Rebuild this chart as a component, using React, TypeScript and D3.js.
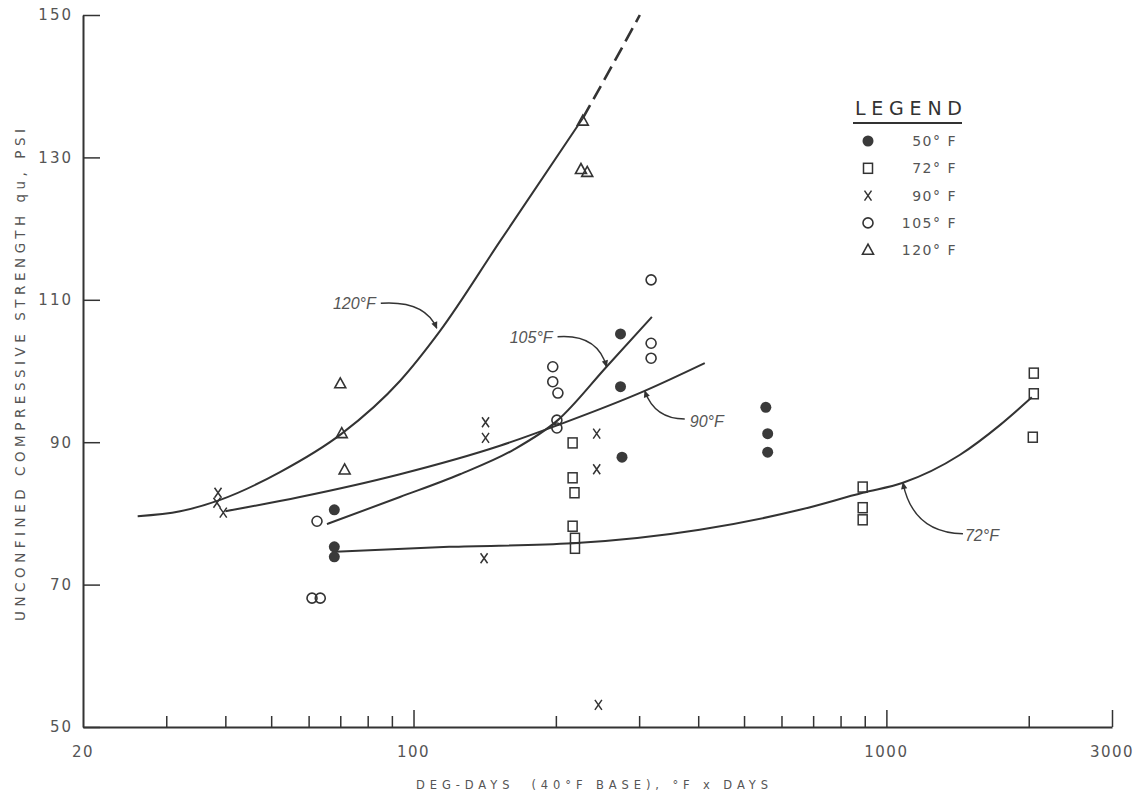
import React, { useEffect, useRef } from 'react';
import * as d3 from 'd3';

const W = 1141;
const H = 797;
const margin = { left: 83, right: 29, top: 15, bottom: 70 };

const xTicks = [30, 40, 50, 60, 70, 80, 90, 100, 200, 300, 400, 500, 600, 700, 800, 900, 1000, 2000, 3000];
const xMajor = [100, 1000];
const xLabels = [20, 100, 1000, 3000];
const yTicks = [50, 70, 90, 110, 130, 150];

// measured points [deg-days, psi]
const pts50 = [[68, 80.5], [68, 75.3], [68, 73.9], [274, 105.2], [274, 97.8], [276, 87.9], [556, 94.9], [561, 91.2], [561, 88.6]];
const pts72 = [[217, 89.9], [217, 85], [219, 82.9], [217, 78.2], [219.5, 76.5], [219.5, 75.1], [891, 83.7], [891, 80.8], [891, 79.1], [2050, 99.7], [2050, 96.8], [2040, 90.7]];
const pts90 = [[38.6, 82.9], [38.4, 81.5], [39.6, 80.1], [142, 92.8], [142, 90.6], [141, 73.7], [244, 91.2], [244, 86.2], [246, 53.1]];
const pts105 = [[62.5, 78.9], [61, 68.1], [63.5, 68.1], [197, 100.6], [197, 98.5], [202, 96.9], [201, 93.1], [201, 92.0], [318, 112.8], [318, 103.9], [318, 101.8]];
const pts120 = [[228, 135.1], [226, 128.3], [233, 127.9], [70, 98.2], [70.5, 91.2], [71.5, 86.1]];

// fitted curves
const curve120 = [[26.1, 79.6], [32.1, 80.3], [39, 81.9], [52.2, 85.8], [70.5, 91.2], [93.6, 98.6], [113.7, 105.6], [152.3, 118.2], [228, 135.5]];
const curve120Ext = [[228, 135.5], [262.6, 142.8], [301, 150]];
const curve105 = [[65.6, 78.5], [93.6, 82.3], [125.4, 85.5], [162.3, 88.9], [201.9, 93.1], [256, 100.6], [319.2, 107.6]];
const curve90 = [[40, 80.3], [57.5, 82.3], [93.6, 85.5], [152.3, 89.5], [201.9, 92.4], [308.3, 97.2], [413, 101.1]];
const curve72 = [[68.2, 74.6], [119, 75.3], [217, 75.8], [402.9, 77.7], [656, 80.5], [891.5, 82.9], [1084, 84.3], [1429, 88.2], [1738, 92.4], [2030, 96.3]];

const legendItems = [
  { key: 'dot', label: '50° F' },
  { key: 'square', label: '72° F' },
  { key: 'cross', label: '90° F' },
  { key: 'circle', label: '105° F' },
  { key: 'triangle', label: '120° F' },
];

// curve call-outs: anchor on curve (data), text and leader offsets (px)
const callouts = [
  { label: '120°F', at: [112, 106.0], tx: -61, ty: -19, anchor: 'end', path: 'M-56,-25 Q-12,-28 0,0' },
  { label: '105°F', at: [256, 100.6], tx: -54, ty: -24, anchor: 'end', path: 'M-49,-30 Q-9,-33 0,0' },
  { label: '90°F', at: [308.3, 97.2], tx: 45, ty: 36, anchor: 'start', path: 'M40,28 Q10,28 0,0' },
  { label: '72°F', at: [1084, 84.3], tx: 62, ty: 58, anchor: 'start', path: 'M60,51 Q10,50 0,0' },
];

const INK = '#333';
const TXT = '#555';
const FONT = '"DejaVu Sans", sans-serif';

const Symbol = ({ kind, x, y }: { kind: string; x: number; y: number }) => {
  if (kind === 'dot') return <circle cx={x} cy={y} r={5.5} fill="#3a3a3a" />;
  if (kind === 'circle') return <circle cx={x} cy={y} r={5} fill="none" stroke={INK} strokeWidth={1.6} />;
  if (kind === 'square') return <rect x={x - 4.5} y={y - 5} width={9} height={10} fill="none" stroke={INK} strokeWidth={1.5} />;
  if (kind === 'triangle')
    return <path d={`M${x},${y - 6} L${x + 5.5},${y + 4} L${x - 5.5},${y + 4} Z`} fill="none" stroke={INK} strokeWidth={1.6} />;
  return (
    <path d={`M${x - 3.5},${y - 5} L${x + 3.5},${y + 5} M${x + 3.5},${y - 5} L${x - 3.5},${y + 5}`} stroke={INK} strokeWidth={1.5} />
  );
};

const App = () => {
  const axRef = useRef<SVGGElement>(null);

  const x = d3.scaleLog().domain([20, 3000]).range([margin.left, W - margin.right]);
  const y = d3.scaleLinear().domain([50, 150]).range([H - margin.bottom, margin.top]);

  const line = d3
    .line<number[]>()
    .x((d) => x(d[0]))
    .y((d) => y(d[1]))
    .curve(d3.curveMonotoneX);

  useEffect(() => {
    const g = d3.select(axRef.current);
    g.selectAll('*').remove();

    const xa = g
      .append('g')
      .attr('transform', `translate(0,${y(50)})`)
      .call(d3.axisBottom(x).tickValues(xTicks).tickSize(-11).tickSizeOuter(0).tickFormat(() => ''));
    xa.select('.domain').attr('stroke', INK).attr('stroke-width', 2);
    xa.selectAll('.tick line')
      .attr('stroke', INK)
      .attr('stroke-width', 1.5)
      .attr('y2', (d: any) => (xMajor.includes(d) || d === 3000 ? -17 : -11));

    const ya = g
      .append('g')
      .attr('transform', `translate(${x(20)},0)`)
      .call(d3.axisLeft(y).tickValues(yTicks).tickSize(-17).tickSizeOuter(0).tickPadding(10));
    ya.select('.domain').attr('stroke', INK).attr('stroke-width', 2);
    ya.selectAll('.tick line').attr('stroke', INK).attr('stroke-width', 1.5);
    ya.selectAll('.tick text')
      .attr('fill', TXT)
      .style('font-family', FONT)
      .style('font-size', '15px')
      .style('letter-spacing', '2px');
  }, []);

  const series = [
    { kind: 'dot', pts: pts50 },
    { kind: 'square', pts: pts72 },
    { kind: 'cross', pts: pts90 },
    { kind: 'circle', pts: pts105 },
    { kind: 'triangle', pts: pts120 },
  ];

  return (
    <svg width={W} height={H} style={{ position: 'absolute', left: 0, top: 0, background: '#fff' }}>
      <defs>
        <marker id="arr" viewBox="0 0 10 10" refX="9" refY="5" markerWidth="9" markerHeight="7" markerUnits="userSpaceOnUse" orient="auto">
          <path d="M0,0.5 L10,5 L0,9.5 Z" fill={INK} />
        </marker>
      </defs>

      <g ref={axRef} />

      {xLabels.map((v) => (
        <text key={v} x={x(v)} y={y(50) + 30} textAnchor="middle" fill={TXT} fontFamily={FONT} fontSize={15} letterSpacing={1.5}>
          {v}
        </text>
      ))}

      <text
        transform={`translate(25,${(y(50) + y(150)) / 2 + 4}) rotate(-90)`}
        textAnchor="middle"
        fill={TXT}
        fontFamily={FONT}
        fontSize={13.5}
        textLength={492}
        lengthAdjust="spacing"
      >
        UNCONFINED COMPRESSIVE STRENGTH qu, PSI
      </text>
      <text
        x={592}
        y={789}
        textAnchor="middle"
        fill={TXT}
        fontFamily={FONT}
        fontSize={11.5}
        textLength={352}
        lengthAdjust="spacing"
        style={{ whiteSpace: 'pre' }}
      >
        {'DEG-DAYS  (40°F BASE), °F x DAYS'}
      </text>

      {[curve120, curve105, curve90, curve72].map((c, i) => (
        <path key={i} d={line(c) || ''} fill="none" stroke={INK} strokeWidth={2} />
      ))}
      <path d={line(curve120Ext) || ''} fill="none" stroke={INK} strokeWidth={2.6} strokeDasharray="15,7" />

      {callouts.map((c) => {
        const px = x(c.at[0]);
        const py = y(c.at[1]);
        return (
          <g key={c.label} transform={`translate(${px},${py})`}>
            <path d={c.path} fill="none" stroke={INK} strokeWidth={1.4} markerEnd="url(#arr)" />
            <text x={c.tx} y={c.ty} textAnchor={c.anchor as any} fill={TXT} fontFamily='"Liberation Sans", sans-serif' fontStyle="italic" fontSize={16}>
              {c.label}
            </text>
          </g>
        );
      })}

      {series.map((s) =>
        s.pts.map((p, i) => <Symbol key={s.kind + i} kind={s.kind} x={x(p[0])} y={y(p[1])} />)
      )}

      <g>
        <text x={855} y={115} fill={INK} fontFamily={FONT} fontSize={19} textLength={107} lengthAdjust="spacing">
          LEGEND
        </text>
        <line x1={853} x2={962} y1={123} y2={123} stroke={INK} strokeWidth={2} />
        {legendItems.map((it, i) => (
          <g key={it.key}>
            <Symbol kind={it.key} x={868} y={141 + i * 27.3} />
            <text x={957} y={141 + i * 27.3 + 5} textAnchor="end" fill={TXT} fontFamily={FONT} fontSize={14} letterSpacing={1.5}>
              {it.label}
            </text>
          </g>
        ))}
      </g>
    </svg>
  );
};

export default App;
